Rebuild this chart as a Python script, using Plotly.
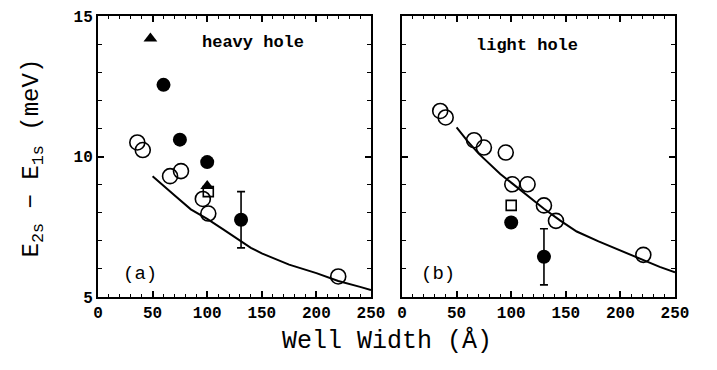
import plotly.graph_objects as go

# ---- heavy hole panel (a) ----
hh_open_x = [36, 41, 66, 76, 96, 101, 220]
hh_open_y = [10.5, 10.23, 9.3, 9.48, 8.49, 7.97, 5.73]
hh_filled_x = [60, 75, 100]
hh_filled_y = [12.55, 10.6, 9.8]
hh_err_x = [131]
hh_err_y = [7.75]
hh_err = [1.0]
hh_tri_x = [48, 100]
hh_tri_y = [14.2, 8.95]
hh_sq_x = [101]
hh_sq_y = [8.75]
hh_curve_x = [50, 60, 70, 85, 100, 115, 130, 140, 150, 175, 200, 220, 240, 250]
hh_curve_y = [9.3, 8.95, 8.62, 8.12, 7.78, 7.4, 7.0, 6.75, 6.55, 6.15, 5.85, 5.57, 5.36, 5.25]

# ---- light hole panel (b) ----
lh_open_x = [35, 40, 66, 75, 95, 101, 115, 130, 141, 221]
lh_open_y = [11.62, 11.39, 10.58, 10.32, 10.14, 9.01, 9.01, 8.26, 7.71, 6.5]
lh_filled_x = [100]
lh_filled_y = [7.65]
lh_err_x = [130]
lh_err_y = [6.43]
lh_err = [1.0]
lh_sq_x = [100]
lh_sq_y = [8.26]
lh_curve_x = [50, 60, 70, 80, 90, 100, 115, 130, 145, 160, 180, 200, 220, 236, 250]
lh_curve_y = [11.04, 10.55, 10.11, 9.75, 9.38, 9.07, 8.6, 8.14, 7.72, 7.33, 6.98, 6.66, 6.33, 6.07, 5.88]

x_ticks = [0, 50, 100, 150, 200, 250]
y_ticks = [5, 10, 15]

FONT = "Liberation Mono"
BLACK = "black"

fig = go.Figure()


def add_panel(xa, ya, curve_x, curve_y, open_x, open_y, filled_x, filled_y,
              err_x, err_y, err, sq_x, sq_y, tri_x=None, tri_y=None):
    fig.add_trace(go.Scatter(x=curve_x, y=curve_y, mode="lines",
                             line=dict(color=BLACK, width=2),
                             xaxis=xa, yaxis=ya, showlegend=False))
    fig.add_trace(go.Scatter(x=open_x, y=open_y, mode="markers",
                             marker=dict(symbol="circle-open", size=15, color=BLACK,
                                         line=dict(width=1.6)),
                             xaxis=xa, yaxis=ya, showlegend=False))
    fig.add_trace(go.Scatter(x=filled_x, y=filled_y, mode="markers",
                             marker=dict(symbol="circle", size=14, color=BLACK),
                             xaxis=xa, yaxis=ya, showlegend=False))
    fig.add_trace(go.Scatter(x=err_x, y=err_y, mode="markers",
                             marker=dict(symbol="circle", size=14, color=BLACK),
                             error_y=dict(type="data", array=err, visible=True,
                                          color=BLACK, thickness=1.6, width=4),
                             xaxis=xa, yaxis=ya, showlegend=False))
    fig.add_trace(go.Scatter(x=sq_x, y=sq_y, mode="markers",
                             marker=dict(symbol="square-open", size=10, color=BLACK,
                                         line=dict(width=1.6)),
                             xaxis=xa, yaxis=ya, showlegend=False))
    if tri_x:
        fig.add_trace(go.Scatter(x=tri_x, y=tri_y, mode="markers",
                                 marker=dict(symbol="triangle-up", size=12, color=BLACK),
                                 xaxis=xa, yaxis=ya, showlegend=False))


add_panel("x", "y", hh_curve_x, hh_curve_y, hh_open_x, hh_open_y, hh_filled_x, hh_filled_y,
          hh_err_x, hh_err_y, hh_err, hh_sq_x, hh_sq_y, hh_tri_x, hh_tri_y)
add_panel("x2", "y2", lh_curve_x, lh_curve_y, lh_open_x, lh_open_y, lh_filled_x, lh_filled_y,
          lh_err_x, lh_err_y, lh_err, lh_sq_x, lh_sq_y)

W, H = 717, 370
ml, mr, mt, mb = 98, 42, 9, 73
pw = W - ml - mr
ph = H - mt - mb

tickfont = dict(family=FONT, size=16, color=BLACK, weight="bold")
xcommon = dict(range=[0, 250], tickvals=x_ticks, ticks="inside", ticklen=6, tickwidth=1.5,
               tickcolor=BLACK, showline=True, linecolor=BLACK, linewidth=2,
               mirror="allticks", showgrid=False, zeroline=False, tickfont=tickfont,
               minor=dict(dtick=10, tick0=0, ticks="inside", ticklen=3, tickcolor=BLACK,
                          tickwidth=1, showgrid=False))
ycommon = dict(range=[5, 15], tickvals=y_ticks, ticks="inside", ticklen=6, tickwidth=1.5,
               tickcolor=BLACK, showline=True, linecolor=BLACK, linewidth=2,
               mirror="allticks", showgrid=False, zeroline=False, tickfont=tickfont,
               minor=dict(dtick=1, tick0=0, ticks="inside", ticklen=4, tickcolor=BLACK,
                          tickwidth=1, showgrid=False))

d1 = (371 - ml) / pw
d2 = (402 - ml) / pw

fig.update_layout(
    width=W, height=H,
    margin=dict(l=ml, r=mr, t=mt, b=mb),
    paper_bgcolor="white", plot_bgcolor="white",
    xaxis=dict(domain=[0, d1], anchor="y", **xcommon),
    yaxis=dict(domain=[0, 1], anchor="x", **ycommon),
    xaxis2=dict(domain=[d2, 1], anchor="y2", **xcommon),
    yaxis2=dict(domain=[0, 1], anchor="x2", showticklabels=False, **ycommon),
    annotations=[
        dict(text="heavy hole", x=142, y=14.04, xref="x", yref="y", showarrow=False,
             font=dict(family=FONT, size=17, color=BLACK, weight="bold")),
        dict(text="light hole", x=114.5, y=13.94, xref="x2", yref="y2", showarrow=False,
             font=dict(family=FONT, size=17, color=BLACK, weight="bold")),
        dict(text="(a)", x=38.5, y=5.83, xref="x", yref="y", showarrow=False,
             font=dict(family=FONT, size=19, color=BLACK)),
        dict(text="(b)", x=33, y=5.83, xref="x2", yref="y2", showarrow=False,
             font=dict(family=FONT, size=19, color=BLACK)),
        dict(text="Well Width (Å)", x=(387 - ml) / pw, y=(ph - (342 - mt)) / ph,
             xref="paper", yref="paper", showarrow=False, xanchor="center", yanchor="middle",
             font=dict(family=FONT, size=25, color=BLACK)),
        dict(text="E<sub>2s</sub> − E<sub>1s</sub> (meV)", x=(33 - ml) / pw,
             y=(ph - (155 - mt)) / ph, xref="paper", yref="paper", showarrow=False,
             textangle=-90, xanchor="center", yanchor="middle",
             font=dict(family=FONT, size=24, color=BLACK)),
    ],
)

fig.write_html("out.html")
